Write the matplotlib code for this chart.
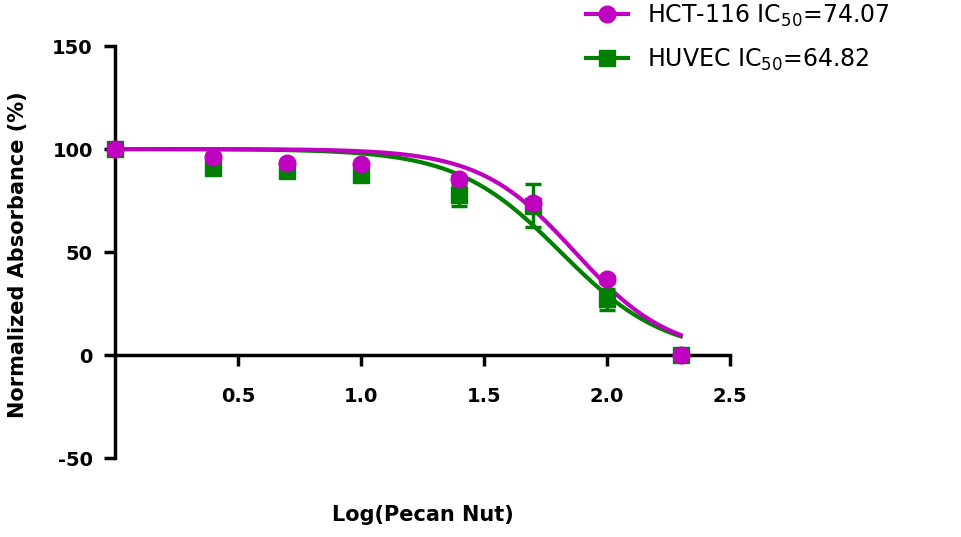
import numpy as np
import matplotlib
matplotlib.use("Agg")
import matplotlib.pyplot as plt

# log10 of concentration
log_conc = [0.0, 0.4, 0.7, 1.0, 1.4, 1.7, 2.0, 2.3]

# normalized absorbance (%)
hct = [100, 96.0, 93.4, 92.7, 85.6, 73.6, 36.7, 0]
hct_err = [0, 1, 1, 1, 1.5, 2, 1.5, 0]
huvec = [100, 90.8, 89.2, 87.3, 77.5, 72.5, 27.0, 0]
huvec_err = [0, 2, 2, 3, 5, 10.5, 5, 0]

# fitted curve parameters
hct_ic50, hct_hill = 74.07, 2.25
huvec_ic50, huvec_hill = 64.82, 2.05

x_ticks = [0.5, 1.0, 1.5, 2.0, 2.5]
y_ticks = [-50, 0, 50, 100, 150]

magenta = "#C000C0"
green = "#008000"


def fit(x, ic50, hill):
    return 100 / (1 + 10 ** ((x - np.log10(ic50)) * hill))


plt.rcParams["font.family"] = "DejaVu Sans"
plt.rcParams["axes.unicode_minus"] = False

fig = plt.figure(figsize=(9.61, 5.37), dpi=100)
ax = fig.add_axes([0.1197, 0.1471, 0.6399, 0.7672])

xs = np.linspace(0, 2.3, 300)
ax.plot(xs, fit(xs, huvec_ic50, huvec_hill), color=green, lw=3, zorder=2)
ax.plot(xs, fit(xs, hct_ic50, hct_hill), color=magenta, lw=3, zorder=3)

ax.errorbar(log_conc, huvec, yerr=huvec_err, fmt="s", color=green, ms=12,
            capsize=6, elinewidth=2.5, capthick=2.5, zorder=4, clip_on=False)
ax.errorbar(log_conc, hct, yerr=hct_err, fmt="o", color=magenta, ms=12,
            capsize=6, elinewidth=2.5, capthick=2.5, zorder=5, clip_on=False)

# legend handles
h1, = ax.plot([], [], color=magenta, lw=3, marker="o", ms=12)
h2, = ax.plot([], [], color=green, lw=3, marker="s", ms=12)
fig.legend([h1, h2],
           ["HCT-116 IC$_{\\mathregular{50}}$=74.07",
            "HUVEC IC$_{\\mathregular{50}}$=64.82"],
           loc="upper left", bbox_to_anchor=(0.588, 1.035), frameon=False,
           fontsize=17, handlelength=1.75, labelspacing=0.75, handletextpad=0.8)

ax.set_xlim(0, 2.5)
ax.set_ylim(-50, 150)
ax.set_xticks(x_ticks)
ax.set_xticklabels(["0.5", "1.0", "1.5", "2.0", "2.5"])
ax.set_yticks(y_ticks)

for s in ["top", "right"]:
    ax.spines[s].set_visible(False)
ax.spines["left"].set_position(("data", 0))
ax.spines["bottom"].set_position(("data", 0))
ax.spines["left"].set_linewidth(2.5)
ax.spines["bottom"].set_linewidth(2.5)
ax.tick_params(axis="both", width=2.5, length=8, labelsize=14)
ax.tick_params(axis="x", pad=15)
ax.tick_params(axis="y", pad=8)
for lab in ax.get_xticklabels() + ax.get_yticklabels():
    lab.set_fontweight("bold")

fig.text(0.44, 0.041, "Log(Pecan Nut)", fontsize=15, fontweight="bold",
         ha="center", va="center")
fig.text(0.019, 0.525, "Normalized Absorbance (%)", fontsize=15,
         fontweight="bold", ha="center", va="center", rotation=90)

fig.savefig("out.png", dpi=100)
